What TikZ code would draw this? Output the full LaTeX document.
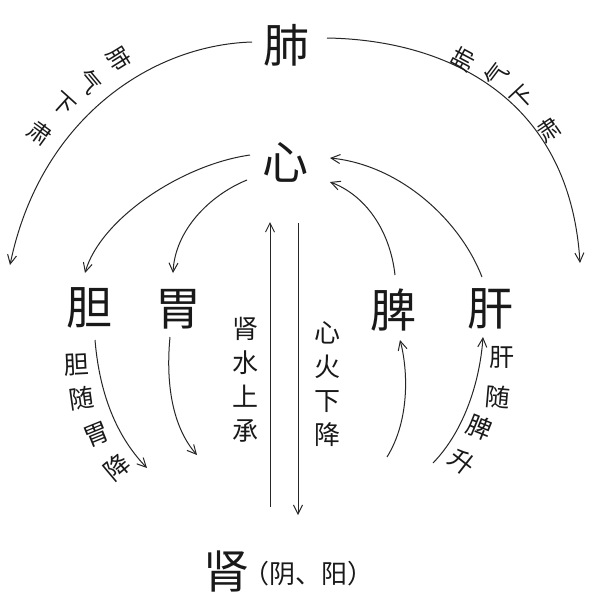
\documentclass[tikz,border=0pt]{standalone}
\usepackage{fontspec}
\setmainfont{Noto Sans CJK SC}
\usetikzlibrary{arrows.meta,calc}
\begin{document}
\begin{tikzpicture}[x=1pt,y=-1pt,
  organ/.style={font=\fontsize{46}{46}\selectfont, inner sep=0pt, text=black!90},
  lab/.style={font=\fontsize{25}{25}\selectfont, inner sep=0pt, text=black!90},
  alab/.style={font=\fontsize{23}{23}\selectfont, inner sep=0pt, text=black!90},
  vlab/.style={font=\fontsize{26}{34}\selectfont, inner sep=0pt, align=center, text=black!90},
  arr/.style={line width=1pt, draw=black!85, -{Straight Barb[length=9pt,width=9pt]}}]
\useasboundingbox (0,0) rectangle (600,598);
\fill[white] (0,0) rectangle (600,598);

% organs
\node[organ] (fei)  at (286,45)  {肺};
\node[organ] (xin)  at (285,162) {心};
\node[organ] (dan)  at (89,308)  {胆};
\node[organ] (wei)  at (178,309) {胃};
\node[organ] (pi)   at (393,310) {脾};
\node[organ] (gan)  at (490,309) {肝};
\node[organ] (shen) at (226,571) {肾};
\node[font=\fontsize{26}{26}\selectfont, inner sep=0pt, anchor=west, text=black!90] (yy) at (243,574) {（阴、阳）};

% free ends
\coordinate (lend) at (10,265);
\coordinate (rend) at (580,263);
\coordinate (wend) at (197,455);
\coordinate (dend) at (147,468);
\coordinate (pstart) at (387,457);
\coordinate (gstart) at (433,463);

% big arcs from lung
\draw[arr] ($(fei)+(-34,-3)$) .. controls (150,45) and (40,120) .. (lend);
\draw[arr] ($(fei)+(41,-7)$) .. controls (450,40) and (570,100) .. (rend);

% heart to gall bladder / stomach
\draw[arr] ($(xin)+(-35,-7)$) .. controls (180,165) and (100,220) .. ($(dan)+(-4,-35)$);
\draw[arr] ($(xin)+(-38,18)$) .. controls (210,195) and (175,230) .. ($(wei)+(-5,-36)$);

% spleen / liver to heart
\draw[arr] ($(pi)+(2,-35)$) .. controls (390,230) and (365,195) .. ($(xin)+(45,20)$);
\draw[arr] ($(gan)+(-8,-32)$) .. controls (460,220) and (400,165) .. ($(xin)+(45,-4)$);

% kidney - heart verticals
\draw[arr] ($(shen)+(44,-64)$) -- ($(xin)+(-15,60)$);
\draw[arr] ($(xin)+(13,61)$) -- ($(shen)+(72,-56)$);

% descending / ascending
\draw[arr] ($(wei)+(-8,28)$) .. controls (165,390) and (175,430) .. (wend);
\draw[arr] ($(dan)+(6,32)$) .. controls (100,400) and (120,440) .. (dend);
\draw[arr] (pstart) .. controls (410,420) and (408,370) .. ($(pi)+(7,30)$);
\draw[arr] (gstart) .. controls (465,430) and (480,380) .. ($(gan)+(-7,28)$);

% vertical labels
\node[vlab] (sswater) at (245,380) {肾\\水\\上\\承};
\node[vlab] (xfire) at (327,384) {心\\火\\下\\降};

% left arc label
\node[alab,rotate=-58] (la1) at (119,59)  {肺};
\node[alab,rotate=-50] (la2) at (90,82)   {气};
\node[alab,rotate=-42] (la3) at (63,104)  {下};
\node[alab,rotate=-36] (la4) at (40,133)  {肃};

% right arc label
\node[alab,rotate=62] (ra1) at (463,59)  {肺};
\node[alab,rotate=53] (ra2) at (496,75)  {气};
\node[alab,rotate=43] (ra3) at (523,98)  {下};
\node[alab,rotate=34] (ra4) at (549,130) {肃};

% gall follows stomach
\node[lab,rotate=3]  (dl1) at (77,365)  {胆};
\node[lab,rotate=8]  (dl2) at (82,398)  {随};
\node[lab,rotate=22] (dl3) at (97,435)  {胃};
\node[lab,rotate=40] (dl4) at (117,467) {降};

% liver follows spleen
\node[lab,rotate=0]   (gl1) at (502,357) {肝};
\node[lab,rotate=-5]  (gl2) at (498,397) {随};
\node[lab,rotate=-22] (gl3) at (480,427) {脾};
\node[lab,rotate=-38] (gl4) at (462,462) {升};
\end{tikzpicture}
\end{document}
